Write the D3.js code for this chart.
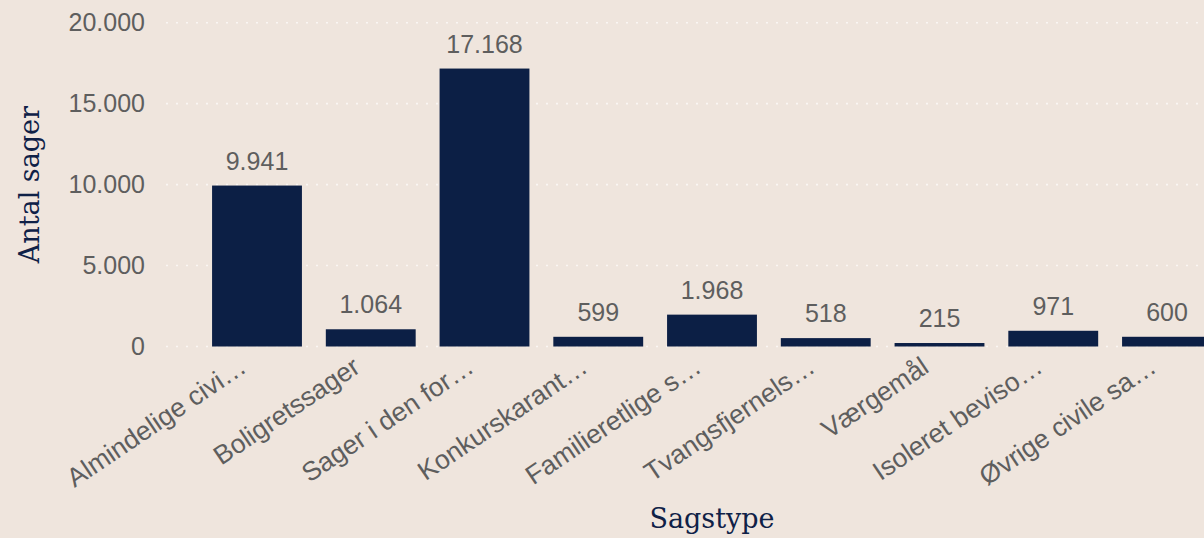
<!DOCTYPE html>
<html>
<head>
<meta charset="utf-8">
<script src="https://cdn.jsdelivr.net/npm/d3@7"></script>
<style>
  html, body { margin: 0; padding: 0; background: #efe5dd; }
  svg { display: block; }
  .tick-label, .bar-label, .cat-label { font-family: "Liberation Sans", Arial, sans-serif; font-size: 25px; fill: #5e5e5e; }
  .cat-label { font-size: 26.5px; }
  .axis-title { font-family: "DejaVu Serif", Georgia, serif; font-size: 27px; fill: #0f2147; }
</style>
</head>
<body>
<div id="chart"></div>
<script>
// data
var categories = [
  'Almindelige civi\u2026', 'Boligretssager', 'Sager i den for\u2026',
  'Konkurskarant\u2026', 'Familieretlige s\u2026', 'Tvangsfjernels\u2026',
  'V\u00e6rgem\u00e5l', 'Isoleret beviso\u2026', '\u00d8vrige civile sa\u2026'
]
var values = [9941, 1064, 17168, 599, 1968, 518, 215, 971, 600]
var yTicks = [0, 5000, 10000, 15000, 20000]
var xTitle = 'Sagstype'
var yTitle = 'Antal sager'

;(function (d3) {
  var width = 1204
  var height = 538

  var svg = d3.select('#chart')
    .append('svg')
    .attr('width', width)
    .attr('height', height)

  var da = d3.formatLocale({ decimal: ',', thousands: '.', grouping: [3], currency: ['', ' kr.'] })
  var fmt = da.format(',d')

  var xScale = d3.scaleBand()
    .domain(categories)
    .range([166, 1258])
    .paddingInner(0.21)
    .paddingOuter(0.405)

  var yScale = d3.scaleLinear()
    .domain([0, 20000])
    .range([346.5, 22.7])

  // gridlines
  var grid = svg.append('g').classed('grid', true)
  grid.selectAll('line')
    .data(yTicks)
    .enter()
    .append('line')
    .attr('x1', 166)
    .attr('x2', width)
    .attr('y1', function (d) { return yScale(d) })
    .attr('y2', function (d) { return yScale(d) })
    .attr('stroke', '#faf6f3')
    .attr('stroke-width', 1.6)
    .attr('stroke-dasharray', '2 8')

  // y tick labels
  svg.append('g')
    .selectAll('text')
    .data(yTicks)
    .enter()
    .append('text')
    .attr('class', 'tick-label')
    .attr('x', 145)
    .attr('y', function (d) { return yScale(d) })
    .attr('dy', '0.35em')
    .attr('text-anchor', 'end')
    .text(function (d) { return fmt(d) })

  // bars
  svg.append('g')
    .selectAll('rect')
    .data(values)
    .enter()
    .append('rect')
    .attr('x', function (d, i) { return xScale(categories[i]) })
    .attr('y', function (d) { return yScale(d) })
    .attr('width', xScale.bandwidth())
    .attr('height', function (d) { return yScale(0) - yScale(d) })
    .attr('fill', '#0c1f45')

  // value labels
  svg.append('g')
    .selectAll('text')
    .data(values)
    .enter()
    .append('text')
    .attr('class', 'bar-label')
    .attr('x', function (d, i) { return xScale(categories[i]) + xScale.bandwidth() / 2 })
    .attr('y', function (d) { return yScale(d) - 16 })
    .attr('text-anchor', 'middle')
    .text(function (d) { return fmt(d) })

  // category labels
  svg.append('g')
    .selectAll('text')
    .data(categories)
    .enter()
    .append('text')
    .attr('class', 'cat-label')
    .attr('text-anchor', 'end')
    .attr('transform', function (d) {
      var cx = xScale(d) + xScale.bandwidth() / 2 - 9
      return 'translate(' + cx + ',' + (yScale(0) + 24.5) + ') rotate(-34)'
    })
    .text(function (d) { return d })

  // axis titles
  svg.append('text')
    .attr('class', 'axis-title')
    .attr('x', (xScale.range()[0] + xScale.range()[1]) / 2)
    .attr('y', 528)
    .attr('text-anchor', 'middle')
    .text(xTitle)

  svg.append('text')
    .attr('class', 'axis-title')
    .attr('text-anchor', 'middle')
    .attr('transform', 'translate(39,' + (yScale.range()[0] + yScale.range()[1]) / 2 + ') rotate(-90)')
    .text(yTitle)
})(d3);
</script>
</body>
</html>
